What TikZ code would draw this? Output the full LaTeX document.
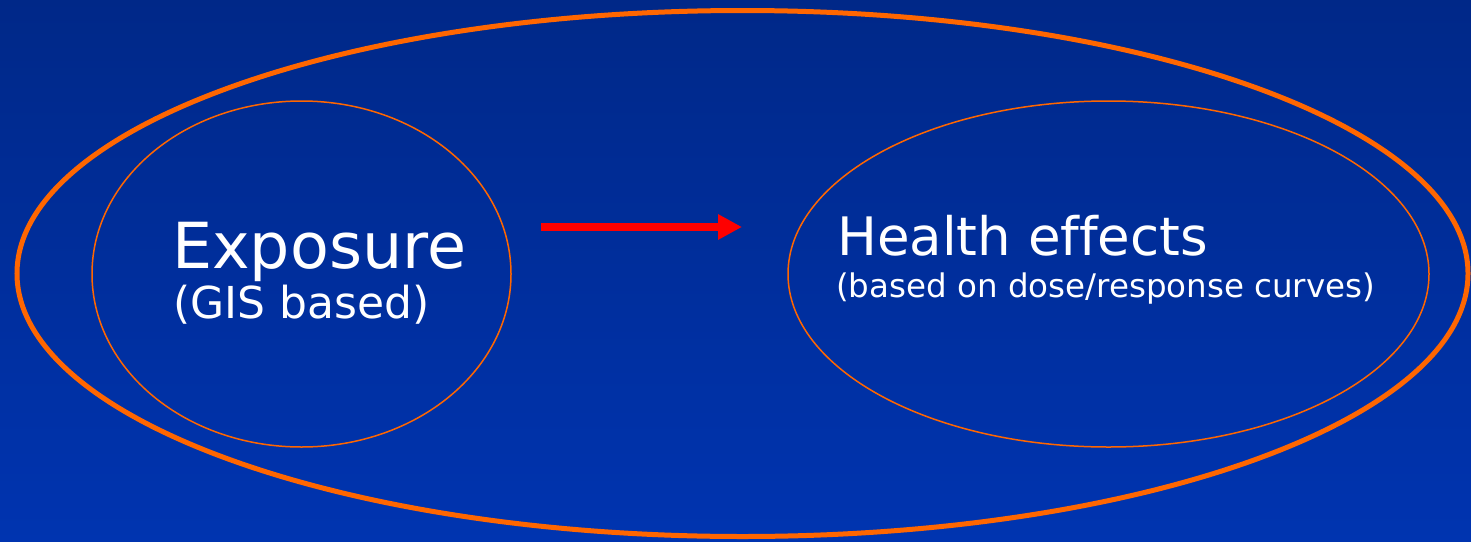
\documentclass[tikz,border=0pt]{standalone}
\usepackage{fontspec}
\setmainfont[Ligatures=NoCommon]{DejaVu Sans}
\usetikzlibrary{shapes.geometric,arrows.meta}

\definecolor{bgtop}{RGB}{0,40,136}
\definecolor{bgbottom}{RGB}{0,52,176}
\definecolor{ring}{RGB}{255,102,0}
\definecolor{flow}{RGB}{255,0,0}

\tikzset{
  ringbig/.style={ellipse, draw=ring, line width=5pt, inner sep=0pt},
  ringsmall/.style={ellipse, draw=ring, line width=1.5pt, inner sep=0pt},
  label/.style={text=white, anchor=base west, inner sep=0pt},
  flowarrow/.style={draw=flow, line width=8pt, -{Triangle[length=24pt,width=24pt]}, color=flow},
}

\begin{document}
\begin{tikzpicture}[x=1pt,y=-1pt]
  % background
  \shade[top color=bgtop, bottom color=bgbottom] (0,0) rectangle (1471,541);
  \useasboundingbox (0,0) rectangle (1471,541);

  % enclosing ellipse and the two stages
  \node[ringbig, minimum width=1451pt, minimum height=526pt] (whole) at (742.5,273.5) {};
  \node[ringsmall, minimum width=419pt, minimum height=346pt] (exposure) at (301.5,274) {};
  \node[ringsmall, minimum width=641pt, minimum height=346pt] (health) at (1108.5,274) {};

  % texts
  \node[label, font=\fontsize{63.5}{63.5}\selectfont] (t1) at (172,268) {Exposure};
  \node[label, font=\fontsize{44}{44}\selectfont] (t2) at (173,318) {(GIS based)};
  \node[label, font=\fontsize{53}{53}\selectfont] (t3) at (837,255) {Health effects};
  \node[label, font=\fontsize{32.5}{32.5}\selectfont] (t4) at (836,297) {(based on dose/response curves)};

  % arrow between the stages
  \coordinate (a0) at (541,227);
  \coordinate (a1) at (742,227);
  \draw[flowarrow] (a0) -- (a1);
\end{tikzpicture}
\end{document}
